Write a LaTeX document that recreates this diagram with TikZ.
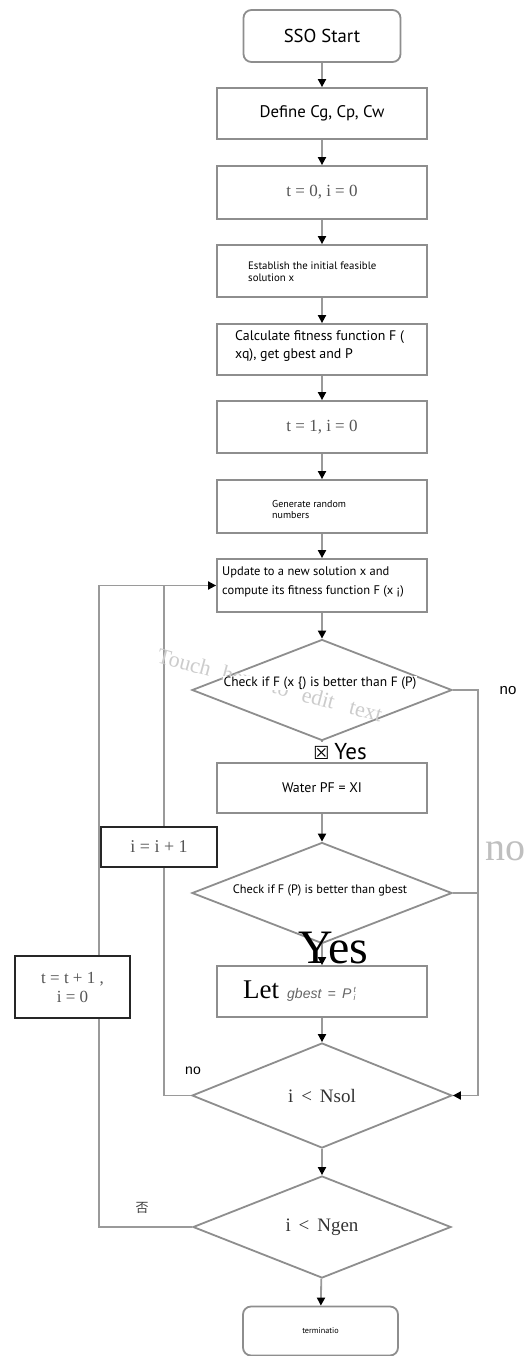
\documentclass[tikz,border=0pt]{standalone}
\usepackage{fontspec}
\setmainfont{PT Sans}
\newfontfamily\serif{Liberation Serif}
\newfontfamily\arial{Liberation Sans}
\newfontfamily\cjk{Noto Sans CJK SC}
\newfontfamily\symb{DejaVu Sans}
\usetikzlibrary{shapes.geometric,arrows.meta}

\definecolor{boxgray}{HTML}{8E8E8E}
\definecolor{wiregray}{HTML}{9A9A9A}
\definecolor{numgray}{HTML}{555555}

\tikzset{
  flow/.style={draw=boxgray, line width=1.8pt, fill=white, inner sep=0pt,
               minimum width=210pt, minimum height=52pt},
  terminal/.style={flow, rounded corners=8pt, minimum width=157pt},
  decision/.style={diamond, draw=boxgray, line width=1.8pt, fill=white,
               inner sep=0pt, aspect=2.6, minimum width=260pt, minimum height=101pt},
  sidebox/.style={draw=black!85, line width=2.4pt, fill=white, inner sep=0pt},
  wire/.style={draw=wiregray, line width=1.8pt},
  flowarrow/.style={wire, -{Triangle[length=8pt,width=8pt,color=black]}},
  txt/.style={inner sep=0pt, text=black},
  serifnum/.style={font=\serif\fontsize{17}{20}\selectfont, text=numgray},
}

\begin{document}
\begin{tikzpicture}[x=1pt,y=-1pt]
  \path[use as bounding box] (0,0) rectangle (525,1356);
  \clip (0,0) rectangle (525,1356);
  \fill[white] (0,0) rectangle (525,1356);

  % main column
  \node[terminal, minimum height=52pt, font=\fontsize{18.7}{22}\selectfont] (start) at (322,36) {SSO Start};
  \node[flow, minimum height=51pt, font=\fontsize{16.8}{19}\selectfont] (define) at (322,113.5) {Define Cg, Cp, Cw};
  \node[flow, minimum height=53pt, serifnum] (tzero) at (322,192.5) {t = 0, i = 0};
  \node[flow] (establish) at (322,271) {};
  \node[flow, minimum height=51pt] (calc) at (322,349.5) {};
  \node[flow, serifnum] (tone) at (322,427) {t = 1, i = 0};
  \node[flow, minimum height=53pt] (gen) at (322,506.5) {};
  \node[flow, minimum height=53pt] (update) at (322,585.5) {};
  \node[decision] (d1) at (322,690) {};
  \node[flow, minimum height=50pt, font=\fontsize{13.9}{16}\selectfont] (water) at (322,788) {Water PF = XI};
  \node[decision] (d2) at (322,893) {};
  \node[flow, minimum height=51pt] (let) at (322,991.5) {};
  \node[decision, minimum height=105pt, font=\serif\fontsize{19}{22}\selectfont, text=black!80] (d3) at (322,1095.5) {i \,<\, Nsol};
  \node[decision, minimum height=102pt, minimum width=258pt, font=\serif\fontsize{19}{22}\selectfont, text=black!80] (d4) at (322,1227) {i \,<\, Ngen};
  \node[terminal, minimum width=155pt, minimum height=49pt, font=\fontsize{8.2}{10}\selectfont] (term) at (320.5,1331) {terminatio};

  % texts set off-centre inside their boxes
  \node[txt, anchor=west, align=left, font=\fontsize{10.8}{12}\selectfont] (establish-t) at (248,271.5) {Establish the initial feasible\\solution x};
  \node[txt, anchor=west, align=left, font=\fontsize{13.9}{18.5}\selectfont] (calc-t) at (235,346) {Calculate fitness function F (\\xq), get gbest and P};
  \node[txt, anchor=west, align=left, font=\fontsize{10}{11}\selectfont] (gen-t) at (272,509) {Generate random\\numbers};
  \node[txt, anchor=west, align=left, font=\fontsize{12.5}{19.5}\selectfont] (update-t) at (222,582) {Update to a new solution x and\\compute its fitness function F (x ¡)};
  \node[txt, anchor=base west] (let-t) at (243,998)
    {{\serif\fontsize{27}{27}\selectfont Let}\hspace{8pt}{\arial\itshape\fontsize{14}{14}\selectfont\color{black!60}gbest \,=\, P\,\makebox[0pt][l]{\raisebox{6pt}{\fontsize{8}{8}\selectfont t}}\raisebox{-2pt}{\fontsize{8}{8}\selectfont i}}};

  % straight flow
  \draw[flowarrow] (start) -- (define);
  \draw[flowarrow] (define) -- (tzero);
  \draw[flowarrow] (tzero) -- (establish);
  \draw[flowarrow] (establish) -- (calc);
  \draw[flowarrow] (calc) -- (tone);
  \draw[flowarrow] (tone) -- (gen);
  \draw[flowarrow] (gen) -- (update);
  \draw[flowarrow] (update) -- (d1);
  \draw[flowarrow] (d1) -- (water);
  \draw[flowarrow] (water) -- (d2);
  \draw[flowarrow] (d2) -- (let);
  \draw[flowarrow] (let) -- (d3);
  \draw[flowarrow] (d3) -- (d4);
  \draw[flowarrow] (d4) -- (term);

  % "no" branches on the right
  \coordinate (rjoin) at (478,690);
  \draw[flowarrow] (d1.east) -- (rjoin) |- (d3.east);
  \draw[wire] (d2.east) -- (d2.east -| rjoin);

  % loops on the left
  \coordinate (innerup) at (164,585.5);
  \coordinate (outerup) at (99,585.5);
  \draw[wire] (d3.west) -| (innerup);
  \draw[flowarrow] (d4.west) -| (outerup) -- (update.west);

  \node[sidebox, minimum width=116pt, minimum height=40pt, serifnum, font=\serif\fontsize{18}{20}\selectfont] (incr) at (159,847) {i = i + 1};
  \node[sidebox, minimum width=115pt, minimum height=62pt, align=center, serifnum, font=\serif\fontsize{17}{19}\selectfont] (nextgen) at (72.5,987) {t = t + 1 ,\\i = 0};

  % faint overlay text
  \node[txt, rotate=-15, text=black!20, font=\serif\fontsize{22}{22}\selectfont] (overlay) at (270,685)
    {Touch\hspace{12pt}here\hspace{14pt}to\hspace{14pt}edit\hspace{16pt}text};

  % diamond texts
  \node[txt, fill=white, inner sep=1pt, font=\fontsize{13.5}{15}\selectfont] (d1-t) at (320,683) {Check if F (x \textbraceleft) is better than F (P)};
  \node[txt, font=\fontsize{12.3}{14}\selectfont] (d2-t) at (320,890) {Check if F (P) is better than gbest};

  % branch labels
  \node[txt, fill=white, inner sep=1.5pt, font=\fontsize{23}{25}\selectfont] (yes1) at (340,752) {{\symb\fontsize{18}{18}\selectfont ☒}\hspace{5pt}Yes};
  \node[txt, font=\arial\fontsize{15}{17}\selectfont] (no1) at (508,691) {no};
  \node[txt, anchor=base west, text=black!25, font=\serif\fontsize{40}{40}\selectfont] (no2) at (485,860) {no};
  \node[txt, anchor=base west, font=\serif\fontsize{48}{48}\selectfont] (yes2) at (298,963) {Yes};
  \node[txt, font=\arial\fontsize{14}{16}\selectfont] (no3) at (193,1071) {no};
  \node[txt, text=black!75, font=\cjk\fontsize{13}{15}\selectfont] (fou) at (142,1208) {否};
\end{tikzpicture}
\end{document}
